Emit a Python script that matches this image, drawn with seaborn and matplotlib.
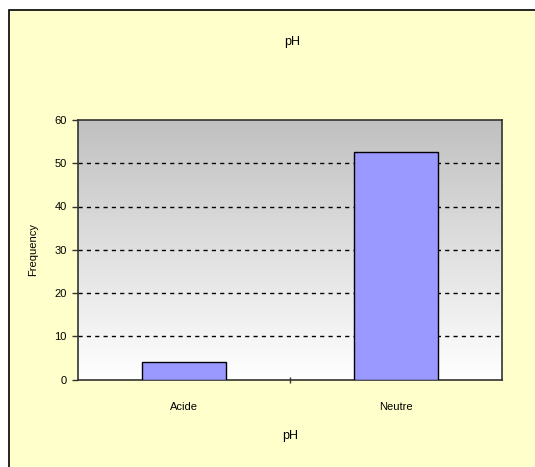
import numpy as np
import pandas as pd
import seaborn as sns
from matplotlib import pyplot as plt
from matplotlib.patches import Rectangle
from matplotlib.colors import LinearSegmentedColormap

categories = ['Acide', 'Neutre']
frequency = [4, 52.5]
y_ticks = [0, 10, 20, 30, 40, 50, 60]

df = pd.DataFrame({'pH': categories, 'Frequency': frequency})

sns.set_style('white')
plt.rcParams['font.family'] = ['Liberation Sans', 'DejaVu Sans']
plt.rcParams['text.color'] = 'black'
plt.rcParams['axes.labelcolor'] = 'black'
plt.rcParams['xtick.color'] = 'black'
plt.rcParams['ytick.color'] = 'black'

fig = plt.figure(figsize=(5.35, 4.67), dpi=100)
fig.patch.set_facecolor('white')

# outer chart frame (pale yellow, cut off at right/bottom)
frame = Rectangle((9 / 535, -0.1), 1.2, 1.1 - 10 / 467, transform=fig.transFigure,
                  facecolor='#FFFFCC', edgecolor='black', linewidth=1.2, zorder=-10)
fig.patches.append(frame)

ax = fig.add_axes([78 / 535, 87.5 / 467, 424 / 535, 259.5 / 467])
ax.set_zorder(1)

# grey-to-white plot area gradient (grey at top)
grad = np.linspace(0, 1, 256).reshape(-1, 1)
cmap = LinearSegmentedColormap.from_list('plotarea', ['#C0C0C0', '#FFFFFF'])
ax.imshow(grad, extent=[-0.5, 1.5, 0, 60], aspect='auto', cmap=cmap, zorder=0)

sns.barplot(data=df, x='pH', y='Frequency', color='#9999FF', width=0.4,
            saturation=1, edgecolor='black', linewidth=1.0, ax=ax, zorder=3)

ax.set_xlim(-0.5, 1.5)
ax.set_ylim(0, 60)
ax.set_yticks(y_ticks)
ax.set_yticklabels([str(t) for t in y_ticks], fontsize=8)
for t in y_ticks[1:-1]:
    ax.axhline(t, color='black', linestyle=(0, (3, 3)), linewidth=1.0, zorder=2)

ax.set_xticks([0, 1])
ax.set_xticklabels(categories, fontsize=8)
ax.set_xticks([0.5], minor=True)
ax.tick_params(axis='x', which='major', length=0, pad=16, bottom=False)
ax.tick_params(axis='x', which='minor', length=5, direction='inout', width=1,
               color='#333333', bottom=True)
ax.tick_params(axis='y', length=4, direction='out', width=1, color='#333333',
               pad=4, left=True)

for s in ax.spines.values():
    s.set_visible(True)
    s.set_color('#333333')
    s.set_linewidth(1.2)

ax.set_xlabel('pH', fontsize=9, labelpad=13)
ax.set_ylabel('Frequency', fontsize=8, labelpad=12)
fig.text(292 / 535, 1 - 42 / 467, 'pH', ha='center', va='center', fontsize=9)

fig.savefig('out.png', dpi=100)
